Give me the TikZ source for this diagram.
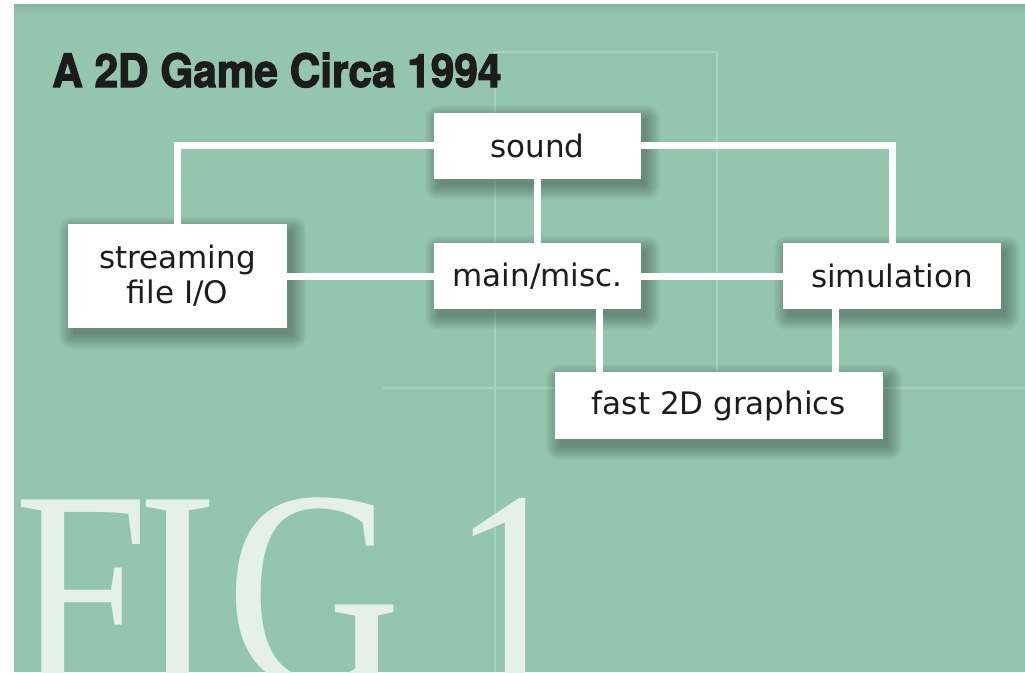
\documentclass[tikz,border=0pt]{standalone}
\usepackage{fontspec}
\setmainfont{DejaVu Sans}
\newfontfamily\titlefont[FakeStretch=0.92,BoldFeatures={FakeBold=2.5}]{TeX Gyre Heros}
\newfontfamily\figfont[FakeStretch=0.85]{Liberation Serif}
\definecolor{sea}{HTML}{94C5AF}
\definecolor{seagrid}{HTML}{A8D3C0}
\definecolor{figtext}{HTML}{E4F0E8}
\definecolor{ink}{HTML}{1C1C1C}
\pgfdeclarelayer{paper}
\pgfdeclarelayer{shade}
\pgfsetlayers{paper,shade,main}

\begin{document}
\begin{tikzpicture}[x=1pt,y=-1pt,
  box/.style={fill=white,text=ink,inner sep=0pt,minimum height=66pt,align=center,
    font=\fontsize{31}{35}\selectfont},
  wire/.style={draw=white,line width=7pt},
  gridline/.style={draw=seagrid,line width=1.5pt}]
\useasboundingbox (0,0) rectangle (1025,672);
\clip (0,0) rectangle (1025,672);
\begin{pgfonlayer}{paper}
\fill[white] (0,0) rectangle (1025,672);
\fill[sea] (14,4) rectangle (1025,672);
\shade[top color=sea!92!black,bottom color=sea] (14,4) rectangle (1025,14);
\draw[gridline] (495,672) -- (495,52) -- (717,52) -- (717,388);
\draw[gridline] (383,388) -- (1025,388);
\node[anchor=base west,inner sep=0pt,text=figtext,font=\figfont\fontsize{285}{285}\selectfont] (fig) at (14,686) {F\kern-12pt I\kern9pt G\hspace{50pt}1};
\end{pgfonlayer}
\node[anchor=base west,inner sep=0pt,text=ink,font=\titlefont\bfseries\fontsize{46}{50}\selectfont] (title) at (52,87) {A 2D Game Circa 1994};
\node[box,minimum width=207pt] (sound) at (537.5,145.5) {sound};
\node[box,minimum width=207pt] (main) at (537.5,276) {main/misc.};
\node[box,minimum width=219pt,minimum height=104pt] (stream) at (177.5,276) {streaming\\file I/O};
\node[box,minimum width=218pt] (sim) at (892,276) {simulation};
\node[box,minimum width=328pt,minimum height=67pt] (fast) at (719,405.5) {fast 2D graphics};
\draw[wire] (sound) -| (stream);
\draw[wire] (sound) -| (sim);
\draw[wire] (sound) -- (main);
\draw[wire] (stream) -- (main);
\draw[wire] (main) -- (sim);
\draw[wire] ([xshift=-42pt]main.south east) -- ([xshift=-42pt]main.south east |- fast.north);
\draw[wire] ([xshift=53pt]sim.south west) -- ([xshift=53pt]sim.south west |- fast.north);
% soft shadows under the boxes
\begin{pgfonlayer}{shade}
\foreach \n in {sound,main,stream,sim,fast}
  \foreach \s in {0,2,...,14}
    \fill[black,opacity=0.04,rounded corners=\s pt]
      ([xshift={5-\s},yshift={\s-7}]\n.north west) rectangle ([xshift={5+\s},yshift={-7-\s}]\n.south east);
\end{pgfonlayer}
\end{tikzpicture}
\end{document}
